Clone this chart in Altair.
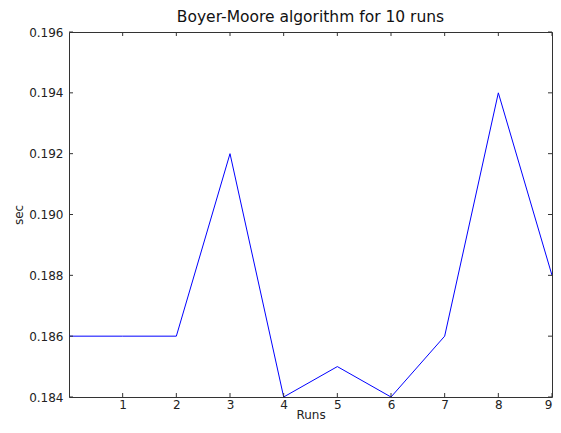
import altair as alt
import pandas as pd

runs = [0, 1, 2, 3, 4, 5, 6, 7, 8, 9]
secs = [0.186, 0.186, 0.186, 0.192, 0.184, 0.185, 0.184, 0.186, 0.194, 0.188]
x_ticks = [1, 2, 3, 4, 5, 6, 7, 8, 9]
y_ticks = [0.184, 0.186, 0.188, 0.190, 0.192, 0.194, 0.196]

W, H = 483, 365
FONT = "DejaVu Sans"

df = pd.DataFrame({"run": runs, "sec": secs})
xt = pd.DataFrame({"run": x_ticks})
yt = pd.DataFrame({"sec": y_ticks})

xs = alt.Scale(domain=[0, 9], nice=False, zero=False)
ys = alt.Scale(domain=[0.184, 0.196], nice=False, zero=False)
xax = alt.Axis(values=x_ticks, format="d", tickSize=0, labelPadding=2,
               domain=False, grid=False, titlePadding=-1)
yax = alt.Axis(values=y_ticks, format=".3f", tickSize=0, labelPadding=6,
               domain=False, grid=False, titlePadding=3)
X = alt.X("run:Q", scale=xs, title="Runs", axis=xax)
Y = alt.Y("sec:Q", scale=ys, title="sec", axis=yax)

line = alt.Chart(df).mark_line(color="#0000ff", strokeWidth=1, clip=True).encode(x=X, y=Y)

tick_col = "#333333"
bottom = alt.Chart(xt).mark_rule(color=tick_col).encode(
    x=X, y=alt.value(H), y2=alt.value(H - 4))
top = alt.Chart(xt).mark_rule(color=tick_col).encode(
    x=X, y=alt.value(0), y2=alt.value(4))
left = alt.Chart(yt).mark_rule(color=tick_col).encode(
    y=Y, x=alt.value(0), x2=alt.value(4))
right = alt.Chart(yt).mark_rule(color=tick_col).encode(
    y=Y, x=alt.value(W), x2=alt.value(W - 4))

chart = alt.layer(line, bottom, top, left, right).properties(
    width=W, height=H,
    title=alt.TitleParams("Boyer-Moore algorithm for 10 runs", font=FONT, fontSize=15.5,
                          fontWeight="normal", color="#111111", offset=1),
    autosize=alt.AutoSizeParams(type="none"),
    padding={"left": 61, "top": 24, "right": 1, "bottom": 24},
).configure_view(stroke="#333333", strokeWidth=1).configure_axis(
    labelFont=FONT, labelFontSize=12, labelColor="#222222",
    titleFont=FONT, titleFontSize=12, titleFontWeight="normal", titleColor="#222222",
)

chart.save("out.html", embed_options={"renderer": "svg", "actions": False})
